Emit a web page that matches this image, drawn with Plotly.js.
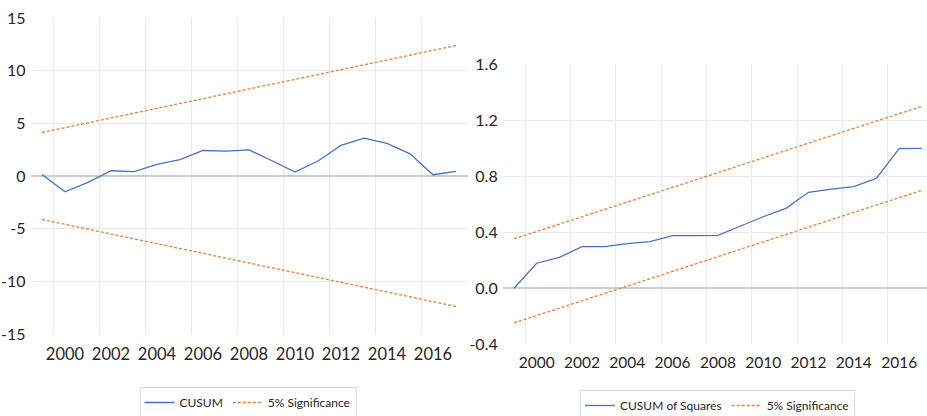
<!DOCTYPE html>
<html>
<head>
<meta charset="utf-8">
<script src="https://cdn.plot.ly/plotly-3.0.1.min.js"></script>
<style>html,body{margin:0;padding:0;background:#fff;overflow:hidden;}#chart{width:927px;height:416px;}</style>
</head>
<body>
<div id="chart"></div>
<script>
// ---- data ----
const years = [1999,2000,2001,2002,2003,2004,2005,2006,2007,2008,2009,2010,2011,2012,2013,2014,2015,2016,2017];
const cusum = [0.15,-1.5,-0.6,0.5,0.42,1.1,1.55,2.42,2.37,2.48,1.45,0.38,1.42,2.9,3.6,3.1,2.1,0.12,0.43];
const cusumUpper = [4.13,4.59,5.05,5.51,5.97,6.42,6.88,7.34,7.80,8.26,8.72,9.18,9.64,10.10,10.55,11.01,11.47,11.93,12.39];
const cusumLower = [-4.13,-4.59,-5.05,-5.51,-5.97,-6.42,-6.88,-7.34,-7.80,-8.26,-8.72,-9.18,-9.64,-10.10,-10.55,-11.01,-11.47,-11.93,-12.39];
const cusumSq = [0,0.179,0.221,0.297,0.297,0.319,0.333,0.376,0.376,0.378,0.445,0.511,0.571,0.686,0.709,0.726,0.786,0.998,1.0];
const sqUpper = [0.353,0.405,0.458,0.511,0.563,0.616,0.668,0.721,0.774,0.826,0.879,0.932,0.984,1.037,1.089,1.142,1.195,1.247,1.300];
const sqLower = [-0.247,-0.195,-0.142,-0.089,-0.037,0.016,0.068,0.121,0.174,0.226,0.279,0.332,0.384,0.437,0.489,0.542,0.595,0.647,0.700];
const gridYears = [1999.5,2001.5,2003.5,2005.5,2007.5,2009.5,2011.5,2013.5,2015.5];
const labelYears = [2000,2002,2004,2006,2008,2010,2012,2014,2016];
const yearLabels = ['2000','2002','2004','2006','2008','2010','2012','2014','2016'];
const leftYTicks = [-15,-10,-5,0,5,10,15];
const leftYText = ['-15','-10','-5','0','5','10','15'];
const rightYTicks = [-0.4,0,0.4,0.8,1.2,1.6];
const rightYText = ['-0.4','0.0','0.4','0.8','1.2','1.6'];

// ---- style ----
const FONT = "Lato, 'Open Sans', sans-serif";
const BLUE = '#4472C4', ORANGE = '#ED7D31';
const GRID = '#e9e9e9', ZERO = '#cccccc', TXT = '#262626';

const traces = [
  {x: years, y: cusum, xaxis:'x', yaxis:'y', type:'scatter', mode:'lines', name:'CUSUM',
   line:{color:BLUE, width:1.3}, legend:'legend'},
  {x: years, y: cusumUpper, xaxis:'x', yaxis:'y', type:'scatter', mode:'lines', name:'5% Significance',
   line:{color:ORANGE, width:1.3, dash:'3px,2px'}, legend:'legend', legendgroup:'s1'},
  {x: years, y: cusumLower, xaxis:'x', yaxis:'y', type:'scatter', mode:'lines', name:'5% Significance',
   line:{color:ORANGE, width:1.3, dash:'3px,2px'}, legend:'legend', legendgroup:'s1', showlegend:false},
  {x: years, y: cusumSq, xaxis:'x2', yaxis:'y2', type:'scatter', mode:'lines', name:'CUSUM of Squares',
   line:{color:BLUE, width:1.3}, legend:'legend2'},
  {x: years, y: sqUpper, xaxis:'x2', yaxis:'y2', type:'scatter', mode:'lines', name:'5% Significance',
   line:{color:ORANGE, width:1.3, dash:'3px,2px'}, legend:'legend2', legendgroup:'s2'},
  {x: years, y: sqLower, xaxis:'x2', yaxis:'y2', type:'scatter', mode:'lines', name:'5% Significance',
   line:{color:ORANGE, width:1.3, dash:'3px,2px'}, legend:'legend2', legendgroup:'s2', showlegend:false},
  // empty carriers so the label-only overlay axes get drawn
  {x: [], y: [], xaxis:'x3', yaxis:'y', type:'scatter', mode:'lines', showlegend:false, hoverinfo:'skip'},
  {x: [], y: [], xaxis:'x4', yaxis:'y2', type:'scatter', mode:'lines', showlegend:false, hoverinfo:'skip'}
];

function gridAx(domain, range, anchor){
  return {domain: domain, range: range, anchor: anchor, tickmode:'array', tickvals: gridYears,
    showticklabels:false, ticks:'', showgrid:true, gridcolor:GRID, gridwidth:1,
    zeroline:false, showline:false, fixedrange:true, automargin:false};
}
function labelAx(base, range, anchor, size, standoff){
  return {overlaying: base, range: range, anchor: anchor, tickmode:'array', tickvals: labelYears, ticktext: yearLabels,
    ticks:'', showgrid:false, zeroline:false, showline:false, ticklabelstandoff: standoff, automargin:false,
    tickfont:{family:FONT, size:size, color:TXT}};
}
function yax(domain, range, ticks, text, anchor){
  return {domain: domain, range: range, tickmode:'array', tickvals: ticks, ticktext: text, anchor: anchor,
    ticks:'', showgrid:true, gridcolor:GRID, gridwidth:1, zeroline:true, zerolinecolor:ZERO, zerolinewidth:2,
    showline:false, ticklabelstandoff: 4, automargin:false, tickfont:{family:FONT, size:16, color:TXT}};
}

const L = [1998.5, 2017.5], R = [1998.5, 2017.23];
const layout = {
  width: 927, height: 416,
  margin: {l:0, r:0, t:0, b:0, autoexpand:false},
  paper_bgcolor:'#fff', plot_bgcolor:'#fff',
  font:{family:FONT, color:TXT},
  xaxis: gridAx([30.5/927, 467.5/927], L, 'y'),
  yaxis: yax([1-334/416, 1-18/416], [-15, 15], leftYTicks, leftYText, 'x'),
  xaxis2: gridAx([502.7/927, 1], R, 'y2'),
  yaxis2: yax([1-344.3/416, 1-64.3/416], [-0.4, 1.6], rightYTicks, rightYText, 'x2'),
  xaxis3: labelAx('x', L, 'y', 16.5, 8),
  xaxis4: labelAx('x2', R, 'y2', 15.5, 7),
  legend: {orientation:'h', x:248/927, xanchor:'center', y:1-387/416, yanchor:'top',
    bordercolor:'#d9d9d9', borderwidth:1, bgcolor:'#fff', font:{family:FONT, size:12, color:TXT}},
  legend2: {orientation:'h', x:717.5/927, xanchor:'center', y:1-390/416, yanchor:'top',
    bordercolor:'#d9d9d9', borderwidth:1, bgcolor:'#fff', font:{family:FONT, size:12, color:TXT}},
  showlegend: true
};

Plotly.newPlot('chart', traces, layout, {staticPlot:true, displayModeBar:false});
</script>
</body>
</html>
